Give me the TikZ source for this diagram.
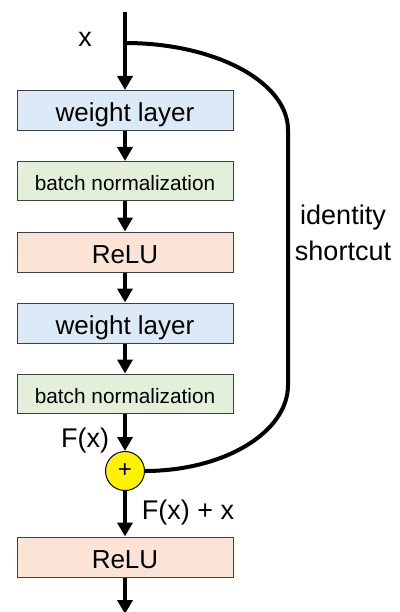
\documentclass[tikz,border=0pt]{standalone}
\usepackage{fontspec}
\setmainfont{Liberation Sans}
\usetikzlibrary{arrows.meta}
\definecolor{wlblue}{HTML}{DCE9F6}
\definecolor{bngreen}{HTML}{E3F0D9}
\definecolor{reluorange}{HTML}{FBE4D5}
\definecolor{boxborder}{HTML}{404040}
\begin{document}
\begin{tikzpicture}[x=1pt,y=1pt,
  layerbox/.style={draw=boxborder, line width=1pt, minimum width=216pt, minimum height=40pt,
    inner sep=0pt, text height=22pt, text depth=0pt, font=\fontsize{26}{26}\selectfont},
  wl/.style={layerbox, fill=wlblue},
  relu/.style={layerbox, fill=reluorange},
  bn/.style={layerbox, fill=bngreen, minimum height=39pt, text height=19pt,
    font=\fontsize{20.8}{21}\selectfont},
  flow/.style={line width=4pt, -{Triangle[length=14pt,width=15pt]}},
  plain/.style={line width=4pt},
  lbl/.style={font=\fontsize{27}{27}\selectfont, inner sep=0pt, anchor=base}]
\useasboundingbox (0,0) rectangle (399,-612);

\coordinate (in) at (125,-12);
\coordinate (split) at (125,-43);
\node[wl]   (wl1)   at (125,-110.5) {weight layer};
\node[bn]   (bn1)   at (125,-181)   {batch normalization};
\node[relu] (relu1) at (125,-252)   {ReLU};
\node[wl]   (wl2)   at (125,-323)   {weight layer};
\node[bn]   (bn2)   at (125,-393.5) {batch normalization};
\node[circle, draw=black, line width=1pt, fill=yellow, minimum size=39pt, inner sep=0pt,
  font=\fontsize{24}{24}\selectfont] (plus) at (125,-471) {+};
\node[relu] (relu2) at (125,-557)   {ReLU};
\coordinate (out) at (125,-614);

% main flow
\draw[flow] (in) -- (wl1.north);
\draw[flow] (wl1.south) -- (bn1.north);
\draw[flow] (bn1.south) -- (relu1.north);
\draw[flow] (relu1.south) -- (wl2.north);
\draw[flow] (wl2.south) -- (bn2.north);
\draw[flow] (bn2.south) -- (plus.north);
\draw[flow] (plus.south) -- (relu2.north);
\draw[flow] (relu2.south) -- (out);

% identity shortcut
\draw[plain] (split) arc[start angle=90, end angle=0, x radius=163, y radius=87]
  -- ++(0,-255) arc[start angle=0, end angle=-90, x radius=143.5, y radius=86] -- (plus.east);

% labels
\node[lbl] (xlbl) at (85,-47) {x};
\node[lbl] (id1) at (343,-225) {identity};
\node[lbl] (id2) at (343,-260) {shortcut};
\node[lbl] (fx) at (85,-447) {F(x)};
\node[lbl] (fxx) at (188,-519) {F(x) + x};
\end{tikzpicture}
\end{document}
